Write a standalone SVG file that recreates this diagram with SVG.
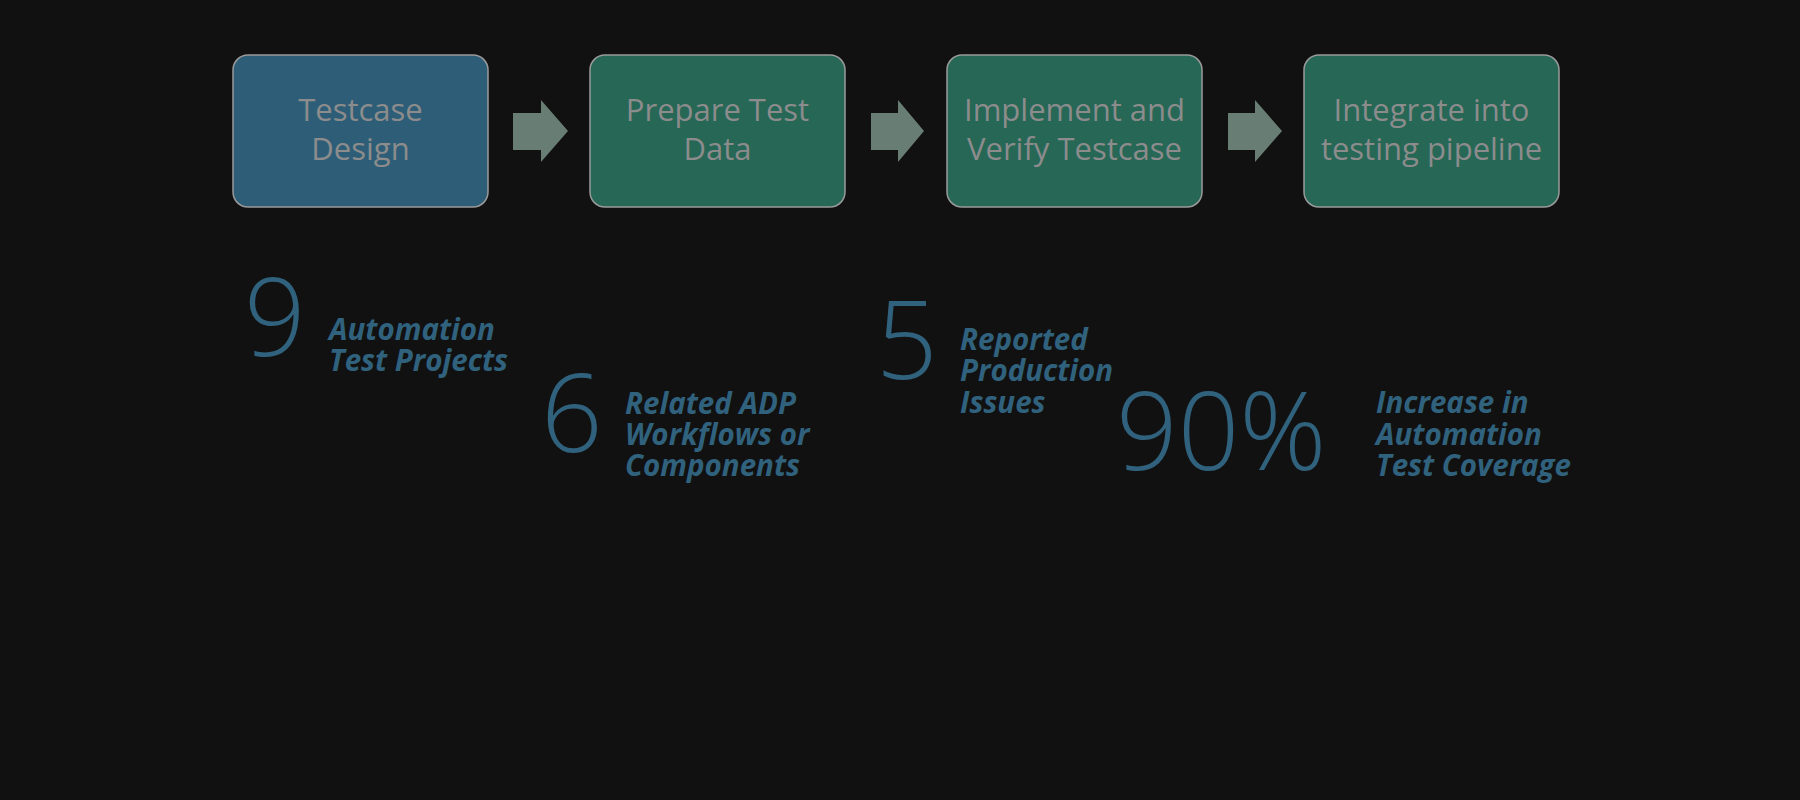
<svg xmlns="http://www.w3.org/2000/svg" width="1800" height="800" viewBox="0 0 1800 800">
<defs>
<style>
.box{stroke:#9a9a9a;stroke-width:1.5}
.blue{fill:#2e5e77}
.green{fill:#266756}
.bt{font-family:"Open Sans","Liberation Sans",sans-serif;font-size:31px;fill:#8c8c8c;text-anchor:middle}
.arrow{fill:#687d73}
.num{font-family:"Open Sans","Liberation Sans",sans-serif;font-weight:300;font-size:108px;fill:#30627e}
.lbl{font-family:"Open Sans","Liberation Sans",sans-serif;font-weight:700;font-style:italic;font-size:29.5px;fill:#30627e}
</style>
</defs>
<rect width="1800" height="800" fill="#111111"/>
<g id="connectors">
<polygon class="arrow" points="513,113 541,113 541,100 568,131 541,162 541,150 513,150"/>
<polygon class="arrow" points="871,113 898,113 898,100 924,131 898,162 898,150 871,150"/>
<polygon class="arrow" points="1228,113 1255,113 1255,100 1282,131 1255,162 1255,150 1228,150"/>
</g>
<g id="node1">
<rect class="box blue" x="233" y="55" width="255" height="152" rx="15"/>
<text class="bt" x="360.5" y="121">Testcase</text>
<text class="bt" x="360.5" y="160">Design</text>
</g>
<g id="node2">
<rect class="box green" x="590" y="55" width="255" height="152" rx="15"/>
<text class="bt" x="717.5" y="121">Prepare Test</text>
<text class="bt" x="717.5" y="160">Data</text>
</g>
<g id="node3">
<rect class="box green" x="947" y="55" width="255" height="152" rx="15"/>
<text class="bt" x="1074.5" y="121">Implement and</text>
<text class="bt" x="1074.5" y="160">Verify Testcase</text>
</g>
<g id="node4">
<rect class="box green" x="1304" y="55" width="255" height="152" rx="15"/>
<text class="bt" x="1431.5" y="121">Integrate into</text>
<text class="bt" x="1431.5" y="160">testing pipeline</text>
</g>
<g id="stat1">
<text class="num" x="244" y="356">9</text>
<text class="lbl" x="329" y="340">Automation</text>
<text class="lbl" x="329" y="371">Test Projects</text>
</g>
<g id="stat2">
<text class="num" x="541" y="452">6</text>
<text class="lbl" x="625" y="414">Related ADP</text>
<text class="lbl" x="625" y="445">Workflows or</text>
<text class="lbl" x="625" y="476">Components</text>
</g>
<g id="stat3">
<text class="num" x="876" y="379">5</text>
<text class="lbl" x="960" y="350">Reported</text>
<text class="lbl" x="960" y="381">Production</text>
<text class="lbl" x="960" y="413">Issues</text>
</g>
<g id="stat4">
<text class="num" x="1116" y="470">90%</text>
<text class="lbl" x="1376" y="413">Increase in</text>
<text class="lbl" x="1376" y="445">Automation</text>
<text class="lbl" x="1376" y="476">Test Coverage</text>
</g>
</svg>
